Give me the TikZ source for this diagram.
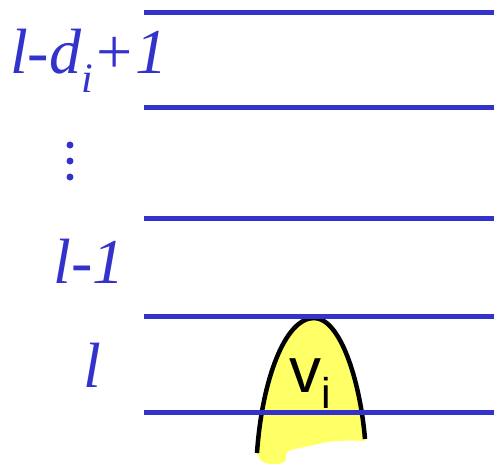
\documentclass[tikz,border=0pt]{standalone}
\usepackage{fontspec}
\setmainfont{Liberation Serif}
\newfontfamily\arialfont{Liberation Sans}
\definecolor{lvblue}{HTML}{3333CC}
\definecolor{blobyellow}{HTML}{FFFF66}
\begin{document}
\begin{tikzpicture}[x=1pt,y=-1pt,
  level/.style={draw=lvblue,line width=5pt},
  lbl/.style={text=lvblue,font=\fontsize{64}{64}\selectfont\itshape,inner sep=0pt,anchor=base},
  dotmark/.style={fill=lvblue,draw=none,circle,minimum size=7pt,inner sep=0pt},
  outline/.style={draw=black,line width=4.5pt}]
\useasboundingbox (0,0) rectangle (494,466);
% blob fill
\fill[blobyellow] (257,453) .. controls (262,380) and (285,318) .. (314,318)
  .. controls (340,318) and (360,380) .. (365,439)
  -- (365,441) .. controls (345,440) and (330,441) .. (318,444)
  -- (300,448) .. controls (288,450) and (285,452) .. (286,458)
  .. controls (287,463) and (280,465) .. (270,464)
  .. controls (262,463) and (259,460) .. (257,453) -- cycle;
\draw[outline] (257,453) .. controls (262,380) and (285,318) .. (314,318)
  .. controls (340,318) and (360,380) .. (365,439);
\node[anchor=base west,inner sep=0pt,font=\arialfont\fontsize{64}{64}\selectfont] (vi) at (289,392)
  {v\raisebox{-16pt}{\fontsize{43}{43}\selectfont i}};
% level lines
\coordinate (a1) at (144,12.5); \coordinate (a2) at (494,12.5);
\coordinate (b1) at (144,107.5); \coordinate (b2) at (494,107.5);
\coordinate (c1) at (144,218); \coordinate (c2) at (494,218);
\coordinate (d1) at (144,316); \coordinate (d2) at (494,316);
\coordinate (e1) at (144,412); \coordinate (e2) at (494,412);
\draw[level] (a1) -- (a2);
\draw[level] (b1) -- (b2);
\draw[level] (c1) -- (c2);
\draw[level] (d1) -- (d2);
\draw[level] (e1) -- (e2);
% labels
\node[lbl] (top) at (89,73) {l-d\raisebox{-19pt}{\fontsize{42}{42}\selectfont i}+1};
\node[lbl] (lm1) at (89,283) {l-1};
\node[lbl] (l) at (92,387) {l};
\node[dotmark] (d1m) at (70,145) {};
\node[dotmark] (d2m) at (70,161) {};
\node[dotmark] (d3m) at (70,177) {};
\end{tikzpicture}
\end{document}
